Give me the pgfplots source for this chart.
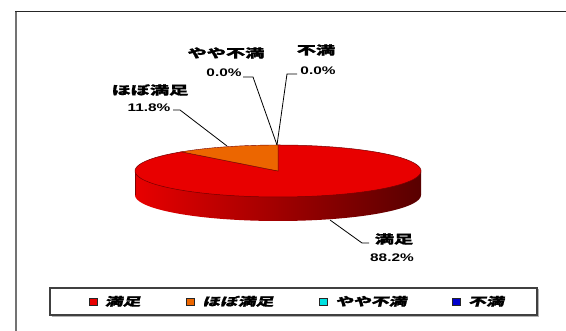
\documentclass[border=0pt]{standalone}
\usepackage{fontspec}
\usepackage{pgfplots}
\usepackage{pgfplotstable}
\pgfplotsset{compat=1.18}
\newfontfamily\jpb{Noto Sans CJK JP}[FakeStretch=1.6, FakeBold=1.2]
\newfontfamily\jpit{Noto Sans CJK JP}[FakeStretch=1.55, FakeSlant=0.25, FakeBold=1.2]
\newfontfamily\numf{Liberation Sans}[FakeStretch=1.4]
\definecolor{pieRed}{RGB}{232,0,0}
\definecolor{pieOrange}{RGB}{236,102,0}
\definecolor{sideL}{RGB}{232,0,0}
\definecolor{sideM}{RGB}{186,0,0}
\definecolor{sideR}{RGB}{88,0,0}
\definecolor{legCyan}{RGB}{0,225,225}
\definecolor{legBlue}{RGB}{0,0,205}

% share of answers (percent): 満足, ほぼ満足, やや不満, 不満
\pgfplotstableread{
idx value
0 88.2
1 11.8
2 0.0
3 0.0
}\piedata
\pgfplotstablegetelem{0}{value}\of\piedata \let\vA\pgfplotsretval
\pgfplotstablegetelem{1}{value}\of\piedata \let\vB\pgfplotsretval
\pgfplotstablegetelem{2}{value}\of\piedata \let\vC\pgfplotsretval
\pgfplotstablegetelem{3}{value}\of\piedata \let\vD\pgfplotsretval

\newcommand\lab{\jpb\bfseries\fontsize{12}{14}\selectfont}
\newcommand\num{\numf\bfseries\fontsize{11}{13}\selectfont}

\begin{document}
\begin{tikzpicture}
\pgfmathsetmacro{\aA}{90-3.6*\vA}
\pgfmathsetmacro{\aB}{\aA-3.6*\vB}
\def\cx{278}\def\cy{-171}\def\rx{143}\def\ry{26}\def\dep{24}
\begin{axis}[
  width=566pt, height=331pt, scale only axis,
  xmin=0, xmax=566, ymin=-331, ymax=0,
  hide axis, clip=false,
  legend columns=4,
  legend style={draw=none, fill=none, at={(axis cs:297.5,-301.5)}, anchor=center,
    font={\jpit\bfseries\fontsize{11.5}{13}\selectfont},
    /tikz/every odd column/.append style={column sep=5pt},
    /tikz/every even column/.append style={column sep=44pt}},
]
% frame
\draw[black!55, line width=2pt] (16,-11) -- (16,-331);
\draw[black!85, line width=1.2pt] (15,-11.5) -- (566,-11.5);

% side of the pie (front), shaded
\addplot[forget plot, draw=none, left color=sideL, middle color=sideM, right color=sideR,
  domain=0:360, samples=181]
  ({\cx+\rx*cos(x)},{\cy-\dep+\ry*sin(x)}) -- cycle;
\addplot[forget plot, draw=none, left color=sideL, middle color=sideM, right color=sideR]
  coordinates {(\cx-\rx,\cy) (\cx+\rx,\cy) (\cx+\rx,\cy-\dep) (\cx-\rx,\cy-\dep)} -- cycle;
\draw[red!50!black, line width=0.3pt] (\cx-\rx,\cy) -- (\cx-\rx,\cy-\dep);

% top face: 満足
\addplot[forget plot, fill=pieRed, draw=red!45!black, line width=0.5pt,
  domain=\aA:90, samples=200]
  ({\cx+\rx*cos(x)},{\cy+\ry*sin(x)}) -- (\cx,\cy) -- cycle;
% top face: ほぼ満足
\addplot[forget plot, fill=pieOrange, draw=red!45!black, line width=0.4pt,
  domain=\aB:\aA, samples=60]
  ({\cx+\rx*cos(x)},{\cy+\ry*sin(x)}) -- (\cx,\cy) -- cycle;

% leader lines
\draw[line width=0.8pt] (173,-110) -- (180,-110) -- (227,-146);
\draw[line width=0.8pt] (243,-77) -- (253,-77) -- (277,-145);
\draw[line width=0.8pt] (297,-74) -- (287,-74) -- (277,-145);
\draw[line width=0.8pt] (330,-220) -- (362,-243) -- (369,-243);

% labels
\node[font=\lab] at (226,-53) {やや不満};
\node[font=\num] at (224,-73) {0.0\%};
\node[font=\lab] at (316,-50) {不満};
\node[font=\num] at (318,-71) {0.0\%};
\node[font=\lab] at (150,-90) {ほぼ満足};
\node[font=\num] at (149,-108) {11.8\%};
\node[font=\lab] at (394,-239) {満足};
\node[font=\num] at (392,-258) {88.2\%};

% legend box
\draw[black!30, line width=1.2pt] (51.5,-316.5) -- (538.5,-316.5) -- (538.5,-289.5);
\draw[black!75, line width=1.3pt] (50,-288) rectangle (537,-315);

\addlegendimage{legend image code/.code={\draw[fill=pieRed,draw=black!85,line width=0.7pt] (0pt,-3.5pt) rectangle (8pt,3.5pt);}}
\addlegendimage{legend image code/.code={\draw[fill=pieOrange,draw=black!85,line width=0.7pt] (0pt,-3.5pt) rectangle (8pt,3.5pt);}}
\addlegendimage{legend image code/.code={\draw[fill=legCyan,draw=black!85,line width=0.7pt] (0pt,-3.5pt) rectangle (8pt,3.5pt);}}
\addlegendimage{legend image code/.code={\draw[fill=legBlue,draw=black!85,line width=0.7pt] (0pt,-3.5pt) rectangle (8pt,3.5pt);}}
\legend{満足, ほぼ満足, やや不満, 不満}
\end{axis}
\pgfresetboundingbox
\path[use as bounding box] (current axis.south west) rectangle (current axis.north east);
\end{tikzpicture}
\end{document}
